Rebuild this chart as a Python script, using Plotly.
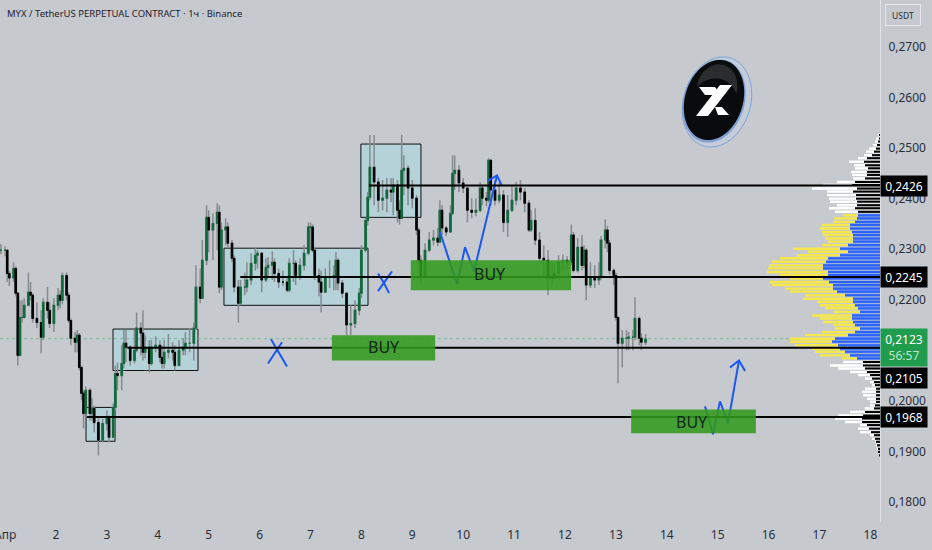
import numpy as np
import plotly.graph_objects as go

TITLE = "MYX / TetherUS PERPETUAL CONTRACT · 1ч · Binance"
FONT = "Noto Sans"
BG = "#c6c9ce"
INK = "#2a2e39"

hours = [-2,0,1,2,4,5,6,7,8,9, 11,12,13,15,17,18,20,21,23,25, 26,27,29,30,31,33,34,35,36,37,
 38,40,41,42,44,46,48,49,51,52, 53,55,56,57,59,61,62,64,65,66, 68,69,71,73,74,75,77,79,80,82,
 84,85,87,89,90,92,93,95,96,98, 100,101,102,104,105,107,108,110,111,113, 114,116,118,119,121,123,124,126,127,129,
 131,133,134,136,137,139,141,143,144,145, 146,148,149,151,153,155,156,157,159,161, 163,165,167,168,170,171,172,174,176,178,
 180,182,183,185,186,187,188,190,192,194, 195,196,198,200,202,204,205,206,208,210, 211,212,214,216,218,220,222,224,225,227,
 228,229,231,233,235,237,239,241,243,245, 247,248,250,252,254,256,258,259,261,263, 265,267,268,270,272,273,274,276,278,280,
 281,283,284,285,287,288,289,291,293,294, 296,297,299,300,302]

close = [.2298,.2298,.2252,.2243,.2262,.2213,.2090,.2165,.2165,.2189,
 .2215,.2209,.2163,.2155,.2126,.2195,.2179,.2153,.2189,.2209,
 .2199,.2248,.2209,.2159,.2124,.2116,.2130,.2066,.2015,.1975,
 .2021,.1975,.1985,.1957,.1922,.1955,.1967,.1928,.1987,.2054,
 .2050,.2074,.2114,.2106,.2080,.2100,.2144,.2134,.2096,.2106,
 .2074,.2106,.2110,.2086,.2074,.2096,.2100,.2096,.2070,.2100,
 .2106,.2114,.2114,.2144,.2225,.2203,.2278,.2363,.2338,.2351,
 .2373,.2225,.2338,.2344,.2312,.2282,.2225,.2193,.2225,.2225,
 .2239,.2272,.2288,.2292,.2239,.2264,.2268,.2274,.2252,.2235,
 .2235,.2219,.2272,.2272,.2248,.2268,.2292,.2344,.2344,.2298,
 .2248,.2235,.2215,.2244,.2244,.2248,.2278,.2233,.2213,.2150,
 .2153,.2179,.2213,.2298,.2357,.2403,.2462,.2433,.2397,.2401,
 .2417,.2413,.2427,.2377,.2361,.2456,.2460,.2421,.2401,.2338,
 .2278,.2244,.2298,.2318,.2322,.2314,.2377,.2342,.2334,.2371,
 .2450,.2456,.2431,.2421,.2377,.2373,.2377,.2421,.2401,.2397,
 .2476,.2417,.2397,.2407,.2353,.2377,.2397,.2421,.2413,.2391,
 .2338,.2357,.2318,.2282,.2278,.2243,.2243,.2252,.2274,.2278,
 .2274,.2328,.2258,.2304,.2268,.2298,.2229,.2243,.2239,.2244,
 .2318,.2338,.2312,.2258,.2248,.2165,.2114,.2124,.2124,.2126,
 .2126,.2163,.2124,.2116,.2122]

high = [.2310,.2306,.2298,.2258,.2274,.2266,.2215,.2199,.2199,.2203,
 .2254,.2235,.2213,.2195,.2179,.2203,.2225,.2195,.2203,.2223,
 .2219,.2254,.2254,.2215,.2163,.2136,.2140,.2134,.2070,.2021,
 .2029,.2025,.2005,.1991,.1965,.1965,.1981,.1971,.1995,.2070,
 .2076,.2110,.2140,.2140,.2110,.2140,.2175,.2155,.2179,.2130,
 .2120,.2120,.2128,.2120,.2110,.2120,.2132,.2116,.2110,.2120,
 .2124,.2136,.2144,.2155,.2268,.2262,.2318,.2387,.2377,.2371,
 .2391,.2387,.2353,.2361,.2353,.2318,.2288,.2239,.2239,.2254,
 .2274,.2292,.2302,.2298,.2294,.2282,.2284,.2296,.2282,.2262,
 .2258,.2246,.2282,.2298,.2278,.2282,.2308,.2353,.2353,.2349,
 .2302,.2262,.2258,.2262,.2278,.2268,.2294,.2282,.2239,.2209,
 .2189,.2199,.2223,.2308,.2361,.2413,.2526,.2526,.2441,.2437,
 .2441,.2441,.2441,.2437,.2397,.2526,.2486,.2466,.2437,.2407,
 .2342,.2288,.2312,.2334,.2338,.2342,.2397,.2387,.2346,.2387,
 .2486,.2486,.2466,.2441,.2417,.2401,.2401,.2433,.2427,.2413,
 .2480,.2476,.2437,.2431,.2417,.2407,.2427,.2433,.2437,.2421,
 .2397,.2377,.2381,.2334,.2308,.2298,.2274,.2268,.2288,.2290,
 .2286,.2349,.2334,.2322,.2328,.2308,.2302,.2274,.2268,.2274,
 .2326,.2359,.2346,.2318,.2262,.2254,.2163,.2140,.2140,.2136,
 .2140,.2205,.2167,.2134,.2132]

low = [.2290,.2286,.2235,.2227,.2235,.2207,.2070,.2088,.2155,.2163,
 .2187,.2199,.2155,.2144,.2094,.2120,.2163,.2144,.2136,.2179,
 .2183,.2191,.2199,.2155,.2110,.2096,.2096,.2060,.2001,.1946,
 .1969,.1961,.1961,.1938,.1892,.1918,.1942,.1918,.1926,.1981,
 .2021,.2021,.2064,.2076,.2070,.2074,.2096,.2090,.2080,.2084,
 .2056,.2070,.2096,.2076,.2064,.2064,.2084,.2080,.2060,.2076,
 .2090,.2090,.2096,.2080,.2140,.2193,.2203,.2268,.2294,.2278,
 .2298,.2213,.2219,.2308,.2302,.2274,.2215,.2155,.2189,.2209,
 .2215,.2229,.2258,.2262,.2215,.2235,.2246,.2239,.2235,.2223,
 .2227,.2215,.2215,.2235,.2229,.2239,.2258,.2288,.2298,.2294,
 .2239,.2207,.2175,.2215,.2223,.2219,.2219,.2219,.2203,.2130,
 .2130,.2144,.2169,.2203,.2294,.2347,.2397,.2387,.2373,.2377,
 .2373,.2393,.2367,.2353,.2349,.2361,.2407,.2387,.2381,.2328,
 .2268,.2233,.2243,.2294,.2308,.2306,.2314,.2328,.2326,.2334,
 .2367,.2417,.2413,.2411,.2353,.2361,.2365,.2373,.2387,.2385,
 .2393,.2387,.2387,.2391,.2334,.2324,.2373,.2387,.2397,.2373,
 .2334,.2334,.2308,.2274,.2248,.2209,.2227,.2239,.2248,.2258,
 .2262,.2268,.2254,.2254,.2258,.2262,.2199,.2223,.2223,.2229,
 .2239,.2302,.2294,.2250,.2229,.2159,.2035,.2066,.2100,.2100,
 .2100,.2120,.2110,.2100,.2110]

profile_price = [.2526,.2519,.2513,.2506,.2499,.2493,.2486,.2480,.2473,.2466,
 .2460,.2453,.2447,.2440,.2433,.2427,.2420,.2414,.2407,.2400,
 .2394,.2387,.2381,.2374,.2367,.2361,.2354,.2348,.2341,.2334,
 .2328,.2321,.2315,.2308,.2301,.2295,.2288,.2282,.2275,.2268,
 .2262,.2255,.2249,.2242,.2235,.2229,.2222,.2216,.2209,.2202,
 .2196,.2189,.2183,.2176,.2169,.2163,.2156,.2150,.2143,.2136,
 .2130,.2123,.2117,.2110,.2103,.2097,.2090,.2084,.2077,.2070,
 .2064,.2057,.2051,.2044,.2037,.2031,.2024,.2018,.2011,.2004,
 .1998,.1991,.1985,.1978,.1971,.1965,.1958,.1952,.1945,.1938,
 .1932,.1925,.1919,.1912,.1905,.1899,.1892]

profile_total = [2,4,5,7,11,14,16,22,31,26,
 25,29,28,27,43,57,68,53,53,51,
 50,43,51,45,37,46,47,58,60,58,
 57,55,52,58,87,72,83,100,108,111,
 112,113,100,90,110,108,95,90,75,
 77,63,60,55,47,68,60,57,47,45,
 58,75,90,90,85,68,65,60,38,37,
 50,42,30,22,15,10,8,15,18,17,
 13,10,10,15,30,42,45,35,20,22,
 20,10,8,5,4,3,2,1]

profile_side = [1,1,2,3,4,6,8,13,16,15,
 12,13,13,15,25,28,23,27,24,24,
 23,23,25,22,22,23,25,30,30,28,
 27,27,27,32,40,32,40,52,54,57,
 57,52,52,57,51,47,47,43,35,
 27,27,25,22,20,28,28,27,25,20,
 25,32,45,48,42,40,35,30,23,17,
 17,15,13,10,8,6,5,4,4,4,
 4,4,5,6,15,17,18,18,13,11,
 9,6,5,4,3,2,2,1]

value_area_high = 0.2367
value_area_low = 0.2084

y_ticks = [0.18, 0.19, 0.20, 0.22, 0.23, 0.24, 0.25, 0.26, 0.27]
x_ticks = list(range(2, 19))
x_labels = [str(d) for d in x_ticks]

level_prices = [0.2426, 0.2245, 0.2105, 0.1968]
level_starts = [8.15, 5.62, 3.40, 2.61]
last_price = 0.2123

X0, X1 = 0.9, 18.189
Y0, Y1 = 0.17603, 0.2793

days = [1 + h / 24 for h in hours]
open_ = [close[0]] + close[:-1]

fig = go.Figure()

fig.add_trace(go.Candlestick(
    x=days, open=open_, high=high, low=low, close=close, whiskerwidth=0,
    increasing=dict(line=dict(color="#868b8f", width=1.5), fillcolor="#868b8f"),
    decreasing=dict(line=dict(color="#868b8f", width=1.5), fillcolor="#868b8f"),
    hoverinfo="skip", showlegend=False))
fig.add_trace(go.Candlestick(
    x=days, open=open_, close=close,
    high=[max(a, b) for a, b in zip(open_, close)],
    low=[min(a, b) for a, b in zip(open_, close)], whiskerwidth=0,
    increasing=dict(line=dict(color="#0e6b3c", width=1), fillcolor="#0e6b3c"),
    decreasing=dict(line=dict(color="#000000", width=1), fillcolor="#000000"),
    hoverinfo="skip", showlegend=False))

in_area = [value_area_low <= p <= value_area_high for p in profile_price]
fig.add_trace(go.Bar(
    y=profile_price, x=profile_total, orientation="h", xaxis="x2", width=0.00048,
    marker=dict(color=["#f6e84a" if a else "#ffffff" for a in in_area], line=dict(width=0)),
    hoverinfo="skip", showlegend=False))
fig.add_trace(go.Bar(
    y=profile_price, x=profile_side, orientation="h", xaxis="x2", width=0.00066,
    marker=dict(color=["#86a0e2" if a else "#f2f3f4" for a in in_area], line=dict(width=0)),
    hoverinfo="skip", showlegend=False))
fig.add_trace(go.Bar(
    y=profile_price, x=profile_side, orientation="h", xaxis="x2", width=0.00042,
    marker=dict(color=["#2962ff" if a else "#000000" for a in in_area], line=dict(width=0)),
    hoverinfo="skip", showlegend=False))

BLUE = "#1b57f2"
strokes = [
    ([6.224, 6.342, 6.539], [.2122, .2102, .2068]),
    ([6.440, 6.165], [.2116, .2074]),
    ([8.326, 8.444, 8.543], [.2252, .2233, .2213]),
    ([8.601, 8.326], [.2256, .2217]),
    ([9.544, 9.878, 10.036, 10.212, 10.664], [.2334, .2231, .2304, .2256, .2446]),
    ([10.488, 10.664, 10.762], [.2435, .2446, .2425]),
    ([14.751, 14.908, 15.045, 15.203, 15.419], [.1989, .1934, .1999, .1956, .2080]),
    ([15.242, 15.419, 15.537], [.2066, .2080, .2059]),
]
for sx, sy in strokes:
    fig.add_trace(go.Scatter(x=sx, y=sy, mode="lines", line=dict(color=BLUE, width=2),
                             hoverinfo="skip", showlegend=False))

shapes = []
# teal consolidation boxes, beneath the candles
for x0, x1, y0, y1 in [(2.59, 3.16, .1920, .1987), (3.12, 4.79, .2060, .2142),
                       (5.30, 8.13, .2189, .2302), (7.99, 9.17, .2363, .2508)]:
    shapes.append(dict(type="rect", x0=x0, x1=x1, y0=y0, y1=y1, xref="x", yref="y", layer="below",
                       fillcolor="#b4d2d8", line=dict(color="#111111", width=1)))
shapes.append(dict(type="line", x0=X0, x1=X1, y0=last_price, y1=last_price, xref="x", yref="y",
                   layer="below", line=dict(color="#7fb79a", width=1, dash="dot")))
# support levels
for p, s in zip(level_prices, level_starts):
    shapes.append(dict(type="line", x0=s, x1=X1, y0=p, y1=p, xref="x", yref="y", layer="above",
                       line=dict(color="#000000", width=2)))
# buy zones
for x0, x1, y0, y1 in [(7.42, 9.45, .2080, .2130), (8.97, 12.12, .2219, .2278), (13.30, 15.75, .1936, .1983)]:
    shapes.append(dict(type="rect", x0=x0, x1=x1, y0=y0, y1=y1, xref="x", yref="y", layer="above",
                       fillcolor="#329a1c", opacity=0.88, line=dict(width=0)))


# coin emblem, drawn in pixel geometry and converted to paper fractions
def paper_path(pts):
    s = ""
    for i, (a, b) in enumerate(pts):
        s += ("M" if i == 0 else "L") + f"{a / 880:.5f},{1 - b / 522:.5f}"
    return s + "Z"


def ellipse(cx, cy, rx, ry, deg):
    t = np.linspace(0, 2 * np.pi, 73)[:-1]
    r = np.radians(deg)
    return [(cx + rx * np.cos(a) * np.cos(r) - ry * np.sin(a) * np.sin(r),
             cy + rx * np.cos(a) * np.sin(r) + ry * np.sin(a) * np.cos(r)) for a in t]


def poly(pts, color, width=0, lc=None):
    shapes.append(dict(type="path", path=paper_path(pts), xref="paper", yref="paper", layer="above",
                       fillcolor=color, line=dict(width=width, color=lc or color)))


poly(ellipse(717, 102, 33.5, 46, 17), "#c3ccd8", 1, "#7fa3d6")
poly(ellipse(714, 101, 30.5, 42.5, 17), "#7e9fd0")
poly(ellipse(714, 100, 29, 41, 17), "#0a0b0d")
poly(ellipse(717, 88, 20, 24, 17), "#2b2c2e")
poly(ellipse(713, 108, 25, 30, 17), "#0a0b0d")
poly([(699, 87), (715, 87), (721, 95), (705, 95)], "#ffffff")
poly([(720, 85), (732, 85), (708, 116), (696, 116)], "#ffffff")
poly([(715, 107), (722, 107), (729, 115), (718, 115)], "#ffffff")

annotations = [
    dict(x=0.006, y=0.975, xref="paper", yref="paper", text=TITLE, showarrow=False, xanchor="left",
         yanchor="middle", font=dict(family=FONT, size=9.5, color="#1e222d")),
    dict(x=1, y=0.972, xref="paper", yref="paper", xanchor="left", yanchor="middle", xshift=5,
         text="USDT", showarrow=False, width=34, height=20, bgcolor=BG, bordercolor="#e3e5e8",
         borderwidth=1, borderpad=0, font=dict(family=FONT, size=8.5, color=INK)),
    dict(x=1, y=-0.023, xref="x", yref="paper", yanchor="middle", text="Апр", showarrow=False,
         font=dict(family=FONT, size=12, color=INK)),
]
for txt, p in [("0,2426", 0.2426), ("0,2245", 0.2245), ("0,2105", 0.2045), ("0,1968", 0.1968)]:
    annotations.append(dict(x=1, y=p, xref="paper", yref="y", xanchor="left", yanchor="middle", xshift=0,
                            text=txt, showarrow=False, width=46, height=20, bgcolor="#000000",
                            borderpad=0, font=dict(family=FONT, size=12, color="#ffffff")))
annotations.append(dict(x=1, y=0.2106, xref="paper", yref="y", xanchor="left", yanchor="middle",
                        text="0,2123<br><span style='color:#bfe3cb'>56:57</span>", showarrow=False,
                        width=46, height=37, bgcolor="#1f9c4d", borderpad=0,
                        font=dict(family=FONT, size=12, color="#ffffff")))
for txt, x, y in [("BUY", 8.44, .2106), ("BUY", 10.53, .2250), ("BUY", 14.50, .1959)]:
    annotations.append(dict(x=x, y=y, xref="x", yref="y", text=txt, showarrow=False,
                            font=dict(family=FONT, size=16, color="#10281a")))

fig.update_layout(
    width=932, height=550, margin=dict(l=0, r=52, t=0, b=28),
    paper_bgcolor=BG, plot_bgcolor=BG, separators=", ",
    font=dict(family=FONT, color=INK, size=12),
    barmode="overlay", boxgap=0, showlegend=False,
    shapes=shapes, annotations=annotations,
    xaxis=dict(range=[X0, X1], tickmode="array", tickvals=x_ticks, ticktext=x_labels,
               showgrid=False, zeroline=False, rangeslider=dict(visible=False), fixedrange=True,
               ticks="outside", ticklen=2, tickcolor=BG, showline=False,
               tickfont=dict(family=FONT, size=12, color=INK)),
    xaxis2=dict(range=[880, 0], overlaying="x", side="top", visible=False, fixedrange=True),
    yaxis=dict(range=[Y0, Y1], side="right", tickmode="array", tickvals=y_ticks,
               tickformat=".4f", showgrid=False, zeroline=False, fixedrange=True,
               ticks="outside", ticklen=5, tickcolor=BG, showline=True, linecolor="#dfe1e5", linewidth=1,
               tickfont=dict(family=FONT, size=12, color=INK)),
)

fig.write_html("out.html", config=dict(displayModeBar=False),
               post_script="document.body.style.margin='0';")
